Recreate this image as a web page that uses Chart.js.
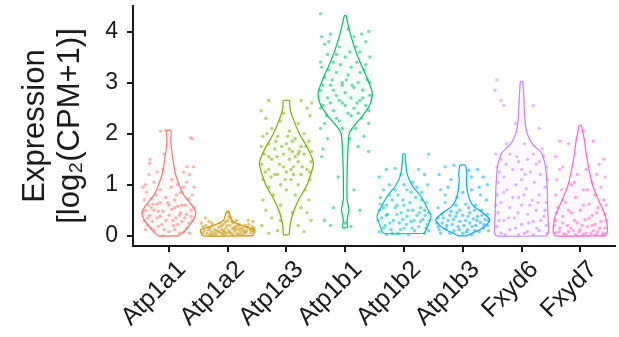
<!DOCTYPE html>
<html>
<head>
<meta charset="utf-8">
<script src="https://cdn.jsdelivr.net/npm/chart.js@4"></script>
<style>
  html, body { margin: 0; padding: 0; background: #fff; }
  #wrap { width: 619px; height: 337px; }
</style>
</head>
<body>
<div id="wrap"><canvas id="chartCanvas" width="619" height="337"></canvas></div>
<script>
// gene names on the x axis
const genes = ["Atp1a1", "Atp1a2", "Atp1a3", "Atp1b1", "Atp1b2", "Atp1b3", "Fxyd6", "Fxyd7"];
const yTicks = [0, 1, 2, 3, 4];
const colors = ["#F8766D", "#CD9600", "#7CAE00", "#00BE67", "#00BFC4", "#00A9FF", "#C77CFF", "#FF61CC"];

// violin outlines: [expression, relative half-width]
const atp1a1Profile = [[0,0.38],[0.1,0.6],[0.2,0.75],[0.3,0.9],[0.45,1],[0.6,0.85],[0.8,0.55],[1.0,0.38],[1.2,0.25],[1.5,0.15],[1.7,0.1],[1.85,0.07],[1.95,0.08],[2.06,0.08]];
const atp1a2Profile = [[0,0.9],[0.05,0.98],[0.12,1],[0.18,0.65],[0.25,0.3],[0.31,0.15],[0.38,0.1],[0.45,0.06],[0.48,0.02]];
const atp1a3Profile = [[0.02,0.1],[0.18,0.13],[0.3,0.17],[0.45,0.25],[0.7,0.45],[0.97,0.74],[1.2,0.9],[1.43,1],[1.7,0.8],[2.0,0.48],[2.25,0.28],[2.45,0.15],[2.6,0.12],[2.65,0.12]];
const atp1b1Profile = [[0.16,0.09],[0.3,0.07],[0.4,0.1],[0.51,0.14],[0.62,0.1],[0.7,0.07],[1.2,0.07],[1.69,0.1],[1.85,0.12],[2.02,0.16],[2.2,0.4],[2.34,0.63],[2.55,0.9],[2.8,1],[3.1,0.8],[3.4,0.55],[3.65,0.37],[3.9,0.22],[4.15,0.1],[4.31,0.03]];
const atp1b2Profile = [[0.05,0.75],[0.18,0.87],[0.38,1],[0.55,0.85],[0.77,0.63],[0.95,0.35],[1.1,0.19],[1.25,0.1],[1.36,0.08],[1.5,0.05],[1.6,0.04]];
const atp1b3Profile = [[0,0.15],[0.05,0.35],[0.12,0.63],[0.2,0.85],[0.31,1],[0.45,0.74],[0.58,0.4],[0.7,0.26],[0.85,0.18],[0.97,0.15],[1.1,0.13],[1.2,0.15],[1.3,0.13],[1.38,0.1]];
const fxyd6Profile = [[0,0.93],[0.1,1],[0.5,0.97],[0.9,0.95],[1.2,0.92],[1.36,0.89],[1.5,0.82],[1.62,0.74],[1.8,0.4],[2.02,0.2],[2.3,0.12],[2.67,0.09],[2.9,0.06],[3.02,0.04]];
const fxyd7Profile = [[0,0.93],[0.08,1],[0.18,1],[0.38,0.93],[0.55,0.8],[0.7,0.67],[1.0,0.45],[1.36,0.3],[1.6,0.22],[1.88,0.15],[2.05,0.08],[2.16,0.04]];

// jittered cells: [x offset from the gene, expression]
const atp1a1Points = [[-0.14,2.05],[-0.05,2.06],[0.37,1.92],[0.4,1.9],[0.42,1.35],[-0.32,1.5],[-0.33,1.42],[-0.2,1.25],[-0.1,1.3],[0.25,1.25],[0.35,1.2],[-0.4,1.0],[-0.25,1.05],[0.05,1.1],[0.15,1.0],[0.3,1.05],[-0.38,0.85],[-0.15,0.9],[0.2,0.85],[0.4,0.8],[-0.42,0.7],[-0.3,0.72],[-0.05,0.75],[0.1,0.7],[0.33,0.72],[-0.35,0.6],[-0.2,0.62],[0.0,0.6],[0.15,0.58],[0.28,0.6],[-0.4,0.5],[-0.25,0.5],[-0.1,0.48],[0.05,0.52],[0.2,0.45],[0.38,0.5],[-0.33,0.4],[-0.15,0.38],[0.0,0.4],[0.12,0.35],[0.3,0.42],[-0.42,0.3],[-0.28,0.28],[-0.05,0.3],[0.22,0.28],[0.4,0.3],[-0.36,0.2],[-0.18,0.18],[0.08,0.2],[0.3,0.15],[-0.25,0.1],[0.0,0.08],[0.18,0.05],[-0.4,0.12],[0.35,0.05],[-0.1,0.0],[0.1,0.55],[-0.22,0.8],[0.25,0.95],[-0.08,1.6],[0.18,0.4],[-0.3,0.55],
    [-0.44,0.45],[-0.36,0.35],[-0.27,0.62],[-0.18,0.48],[-0.12,0.22],[-0.02,0.65],[0.07,0.3],[0.13,0.8],[0.22,0.6],[0.27,0.35],[0.34,0.25],[0.43,0.55],[-0.3,0.15],[-0.08,0.12],[0.1,0.12],[0.26,0.08],[-0.2,0.35],[0.04,0.95],[-0.34,1.2],[0.31,1.35],[-0.44,0.95],[0.43,0.95],[0.15,0.22],[-0.15,0.65],[0.38,0.38]];
const atp1a2Points = [[-0.45,0.25],[-0.4,0.1],[-0.38,0.35],[-0.35,0.05],[-0.3,0.15],[-0.28,0.08],[-0.25,0.2],[-0.22,0.12],[-0.2,0.03],[-0.18,0.1],[-0.15,0.17],[-0.12,0.06],[-0.1,0.12],[-0.08,0.22],[-0.05,0.08],[-0.03,0.15],[0.0,0.3],[0.0,0.45],[0.02,0.1],[0.04,0.2],[0.06,0.05],[0.08,0.14],[0.1,0.25],[0.12,0.09],[0.14,0.18],[0.16,0.04],[0.18,0.12],[0.2,0.22],[0.22,0.08],[0.25,0.15],[0.28,0.05],[0.3,0.2],[0.32,0.1],[0.35,0.3],[0.38,0.12],[0.4,0.06],[0.42,0.18],[0.44,0.1],[-0.42,0.18],[-0.32,0.28],[-0.26,0.02],[-0.14,0.25],[-0.06,0.02],[0.05,0.35],[0.15,0.3],[0.24,0.02],[0.34,0.16],[0.43,0.28],[-0.02,0.05],[0.11,0.16],
    [-0.43,0.05],[-0.37,0.2],[-0.33,0.12],[-0.27,0.25],[-0.23,0.06],[-0.16,0.08],[-0.11,0.19],[-0.07,0.1],[-0.01,0.2],[0.03,0.07],[0.07,0.28],[0.09,0.02],[0.13,0.13],[0.17,0.2],[0.21,0.15],[0.27,0.1],[0.31,0.06],[0.36,0.22],[0.41,0.1],[0.45,0.15],[-0.09,0.04],[0.19,0.03],[-0.3,0.02],[0.02,0.38],[-0.04,0.27]];
const atp1a3Points = [[-0.3,2.65],[0.25,2.65],[0.35,2.5],[-0.35,2.3],[0.4,2.35],[-0.1,2.25],[0.2,2.2],[-0.25,2.1],[0.05,2.05],[0.3,2.0],[-0.4,1.95],[-0.15,1.95],[0.15,1.9],[0.38,1.85],[-0.3,1.8],[0.0,1.8],[0.25,1.75],[-0.2,1.7],[0.1,1.65],[-0.38,1.6],[-0.05,1.6],[0.3,1.6],[-0.25,1.5],[0.05,1.5],[0.2,1.45],[0.42,1.45],[-0.42,1.4],[-0.12,1.4],[0.12,1.35],[0.35,1.3],[-0.3,1.3],[0.0,1.25],[-0.2,1.2],[0.25,1.2],[-0.4,1.1],[0.08,1.1],[0.4,1.1],[-0.1,1.0],[0.2,1.0],[-0.3,0.95],[0.32,0.9],[0.0,0.9],[-0.22,0.8],[0.15,0.8],[-0.4,0.7],[0.38,0.7],[-0.1,0.6],[0.25,0.55],[-0.35,0.5],[0.1,0.45],[-0.25,0.35],[0.42,0.3],[-0.42,0.2],[0.2,0.2],[-0.15,0.1],[0.3,0.08],[-0.3,0.05],[0.05,1.7],[-0.05,1.35],[0.15,1.55],
    [-0.43,1.75],[-0.33,2.0],[-0.18,1.85],[-0.08,1.75],[0.02,1.95],[0.1,1.85],[0.22,1.65],[0.33,1.75],[0.43,1.65],[-0.36,1.25],[-0.26,1.15],[-0.15,1.2],[-0.02,1.1],[0.12,1.2],[0.27,1.35],[0.4,1.25],[-0.3,1.55],[-0.16,1.55],[0.08,1.3],[0.2,1.6],[-0.05,2.4],[0.43,2.6],[-0.43,2.45],[0.35,0.45],[-0.1,0.3]];
const atp1b1Points = [[-0.42,4.35],[0.4,4.0],[-0.25,3.95],[-0.35,3.75],[0.15,3.9],[0.35,3.8],[-0.1,3.7],[0.25,3.6],[-0.3,3.55],[0.42,3.5],[0.0,3.5],[-0.2,3.4],[0.2,3.4],[-0.4,3.3],[0.1,3.3],[0.32,3.25],[-0.15,3.2],[0.05,3.15],[-0.35,3.1],[0.38,3.05],[-0.05,3.0],[0.22,3.0],[-0.25,2.95],[0.15,2.9],[-0.42,2.85],[0.3,2.85],[0.0,2.8],[-0.15,2.75],[0.42,2.75],[-0.3,2.7],[0.1,2.7],[0.25,2.65],[-0.05,2.6],[-0.38,2.55],[0.35,2.55],[0.15,2.5],[-0.2,2.45],[0.05,2.4],[-0.32,2.35],[0.28,2.3],[-0.1,2.25],[0.4,2.2],[-0.42,2.1],[0.18,2.1],[0.32,1.95],[-0.3,1.9],[0.22,1.75],[0.4,1.65],[-0.38,1.7],[-0.12,1.15],[0.15,0.9],[-0.2,0.55],[0.25,0.5],[-0.35,0.3],[0.0,0.25],[-0.25,0.2],[0.1,0.18],[-0.05,2.95],[0.08,3.6],[-0.22,3.05],
    [-0.4,3.9],[-0.28,3.8],[0.05,4.05],[0.28,3.95],[-0.15,3.55],[0.18,3.7],[-0.42,3.4],[0.35,3.35],[-0.08,3.35],[0.25,3.2],[-0.28,3.25],[0.02,3.05],[0.42,3.0],[-0.38,2.95],[0.12,2.95],[0.3,2.7],[-0.2,2.85],[-0.1,2.65],[0.2,2.6],[-0.42,2.5],[0.0,2.55],[-0.25,2.6],[0.4,2.45],[0.1,2.35],[-0.15,2.3],[0.22,2.4],[-0.35,2.2],[-0.05,2.1],[0.08,1.9],[-0.4,1.55]];
const atp1b2Points = [[0.42,1.6],[-0.3,1.3],[-0.15,1.32],[0.25,1.3],[0.35,1.2],[-0.42,1.15],[-0.05,1.2],[0.15,1.05],[-0.25,1.0],[0.4,1.0],[-0.35,0.9],[0.05,0.9],[0.3,0.85],[-0.1,0.8],[-0.4,0.75],[0.2,0.75],[-0.2,0.7],[0.1,0.65],[0.38,0.65],[-0.3,0.6],[0.0,0.6],[0.28,0.55],[-0.15,0.55],[-0.42,0.5],[0.15,0.5],[0.42,0.45],[-0.05,0.45],[-0.28,0.42],[0.22,0.4],[0.05,0.38],[-0.38,0.35],[0.32,0.32],[-0.18,0.3],[0.12,0.28],[-0.08,0.25],[0.4,0.22],[-0.32,0.2],[0.25,0.18],[0.0,0.15],[-0.22,0.12],[0.18,0.1],[-0.42,0.08],[0.35,0.05],[-0.1,0.05],[0.08,0.02],[-0.3,0.02],[0.42,0.1],[-0.02,0.7],[0.3,0.7],[-0.35,0.15],
    [-0.44,0.3],[-0.35,0.55],[-0.24,0.25],[-0.12,0.42],[-0.02,0.32],[0.07,0.5],[0.17,0.3],[0.26,0.45],[0.36,0.4],[0.44,0.3],[-0.4,0.62],[-0.3,0.4],[-0.2,0.05],[-0.06,0.12],[0.04,0.22],[0.14,0.15],[0.28,0.28],[0.38,0.15],[-0.15,0.9],[0.12,0.85],[-0.25,0.8],[0.22,0.95],[0.0,1.0],[-0.12,0.6],[0.35,0.5]];
const atp1b3Points = [[-0.3,1.35],[-0.15,1.38],[0.25,1.3],[0.1,1.28],[0.35,1.15],[-0.4,1.2],[0.42,1.0],[-0.25,0.95],[-0.38,0.9],[0.15,0.9],[0.3,0.8],[-0.1,0.75],[0.4,0.7],[-0.3,0.65],[0.05,0.62],[0.22,0.6],[-0.42,0.55],[-0.05,0.5],[0.32,0.5],[-0.2,0.48],[0.12,0.45],[0.42,0.42],[-0.35,0.42],[0.0,0.4],[0.25,0.38],[-0.12,0.38],[-0.42,0.35],[0.18,0.33],[0.38,0.32],[-0.25,0.3],[0.05,0.3],[-0.05,0.28],[0.3,0.26],[-0.35,0.25],[0.12,0.25],[-0.18,0.22],[0.42,0.2],[0.22,0.2],[-0.42,0.18],[-0.08,0.18],[0.35,0.15],[-0.28,0.14],[0.08,0.12],[-0.15,0.1],[0.28,0.08],[-0.38,0.05],[0.0,0.05],[0.15,0.02],[-0.22,0.4],[0.2,0.5],
    [-0.44,0.25],[-0.33,0.35],[-0.27,0.2],[-0.16,0.32],[-0.06,0.12],[0.02,0.2],[0.09,0.38],[0.16,0.18],[0.24,0.3],[0.33,0.4],[0.44,0.3],[-0.4,0.12],[-0.22,0.05],[-0.1,0.45],[0.06,0.08],[0.2,0.1],[0.36,0.22],[0.44,0.1],[-0.12,0.6],[0.1,0.55],[-0.3,0.8],[0.28,0.95],[0.0,0.85],[-0.2,1.1],[0.15,1.15]];
const fxyd6Points = [[-0.42,3.05],[-0.45,2.85],[-0.35,2.65],[-0.3,2.55],[0.2,2.55],[-0.1,2.2],[0.3,2.1],[0.05,1.8],[-0.2,1.6],[0.38,1.55],[-0.35,1.5],[0.1,1.5],[-0.05,1.45],[0.25,1.4],[-0.42,1.35],[0.42,1.35],[-0.15,1.3],[0.15,1.25],[0.32,1.2],[-0.3,1.15],[0.0,1.1],[-0.4,1.05],[0.22,1.05],[-0.1,1.0],[0.4,0.95],[0.08,0.92],[-0.25,0.9],[-0.42,0.8],[0.3,0.8],[-0.05,0.75],[0.18,0.7],[-0.35,0.65],[0.42,0.65],[0.0,0.6],[-0.2,0.55],[0.25,0.5],[-0.4,0.45],[0.1,0.42],[0.38,0.38],[-0.12,0.35],[-0.3,0.3],[0.2,0.28],[0.0,0.22],[0.42,0.2],[-0.42,0.18],[-0.2,0.12],[0.3,0.1],[0.1,0.08],[-0.35,0.05],[0.2,0.02],[-0.05,0.02],[0.35,1.7],[-0.25,1.8],[0.0,1.3],
    [-0.38,1.25],[-0.26,1.4],[-0.08,1.55],[0.06,1.2],[0.2,1.6],[0.3,1.45],[0.44,1.1],[-0.44,0.6],[-0.3,0.85],[-0.15,0.75],[0.04,0.8],[0.14,0.6],[0.28,0.65],[0.4,0.5],[-0.38,0.3],[-0.22,0.35],[-0.06,0.45],[0.12,0.25],[0.26,0.15],[0.44,0.05],[-0.28,0.02],[0.05,0.05],[-0.1,0.15],[0.33,0.3],[-0.44,1.6]];
const fxyd7Points = [[0.05,2.05],[-0.35,1.85],[-0.2,1.8],[0.22,1.85],[0.4,1.5],[-0.42,1.55],[0.32,1.4],[-0.3,1.35],[0.1,1.3],[-0.05,1.2],[0.42,1.15],[-0.4,1.1],[0.2,1.05],[-0.15,1.0],[0.35,0.95],[-0.32,0.9],[0.05,0.9],[-0.42,0.8],[0.25,0.8],[-0.08,0.75],[0.4,0.7],[-0.25,0.65],[0.15,0.62],[-0.38,0.55],[0.3,0.55],[0.0,0.5],[-0.15,0.45],[0.42,0.42],[0.2,0.4],[-0.3,0.38],[0.08,0.32],[-0.42,0.3],[0.35,0.28],[-0.05,0.25],[0.25,0.22],[-0.22,0.2],[0.12,0.18],[-0.35,0.15],[0.42,0.15],[0.0,0.12],[-0.12,0.1],[0.3,0.08],[-0.42,0.06],[0.18,0.05],[-0.28,0.04],[0.05,0.03],[0.38,0.02],[-0.08,0.02],[0.22,0.1],[-0.2,0.08],
    [-0.44,0.2],[-0.36,0.08],[-0.3,0.25],[-0.24,0.02],[-0.16,0.15],[-0.1,0.3],[-0.02,0.08],[0.03,0.2],[0.1,0.05],[0.15,0.35],[0.2,0.2],[0.27,0.03],[0.33,0.15],[0.4,0.05],[0.44,0.3],[-0.4,0.45],[-0.2,0.5],[0.05,0.6],[0.28,0.45],[0.44,0.6],[-0.3,0.7],[0.12,0.9],[-0.1,1.05],[0.28,1.2],[-0.35,1.3]];

const profiles = [atp1a1Profile, atp1a2Profile, atp1a3Profile, atp1b1Profile, atp1b2Profile, atp1b3Profile, fxyd6Profile, fxyd7Profile];
const pointSets = [atp1a1Points, atp1a2Points, atp1a3Points, atp1b1Points, atp1b2Points, atp1b3Points, fxyd6Points, fxyd7Points];

const halfWidth = 0.46;

function hexA(hex, a) {
    const n = parseInt(hex.slice(1), 16);
    return `rgba(${(n >> 16) & 255}, ${(n >> 8) & 255}, ${n & 255}, ${a})`;
}

const datasets = [];
profiles.forEach((prof, i) => {
    const cx = i + 1;
    const right = prof.map(([y, w]) => ({ x: cx + w * halfWidth, y }));
    const left = prof.slice().reverse().map(([y, w]) => ({ x: cx - w * halfWidth, y }));
    const outline = right.concat(left, [right[0]]);
    datasets.push({
        data: outline,
        showLine: true,
        borderColor: colors[i],
        backgroundColor: hexA(colors[i], 0.035),
        borderWidth: 1.2,
        pointRadius: 0,
        tension: 0.25,
        fill: "shape",
        order: 2
    });
});
pointSets.forEach((pts, i) => {
    datasets.push({
        data: pts.map(([dx, y]) => ({ x: i + 1 + dx, y })),
        showLine: false,
        backgroundColor: hexA(colors[i], 0.55),
        borderWidth: 0,
        pointRadius: 1.7,
        order: 1
    });
});

Chart.defaults.font.family = "'Liberation Sans', Arial, sans-serif";
Chart.defaults.color = "#1a1a1a";

new Chart(document.getElementById("chartCanvas").getContext("2d"), {
    type: "scatter",
    data: { datasets },
    options: {
        responsive: false,
        animation: false,
        layout: { padding: { left: 18, right: 2, top: 6, bottom: 0 } },
        plugins: { legend: { display: false }, tooltip: { enabled: false } },
        scales: {
            x: {
                type: "linear",
                min: 0.39,
                max: 8.59,
                afterBuildTicks: s => { s.ticks = genes.map((g, i) => ({ value: i + 1 })); },
                afterFit: s => { s.height = 91; s.paddingLeft = 0; s.paddingRight = 0; },
                ticks: {
                    callback: v => genes[v - 1],
                    minRotation: 45,
                    maxRotation: 45,
                    font: { size: 25 },
                    color: "#1a1a1a",
                    padding: 3,
                    labelOffset: 13
                },
                grid: { drawOnChartArea: false, drawTicks: true, tickLength: 6, color: "#1a1a1a", lineWidth: 2 },
                border: { display: true, color: "#1a1a1a", width: 2 }
            },
            y: {
                min: -0.2,
                max: 4.5,
                afterBuildTicks: s => { s.ticks = yTicks.map(v => ({ value: v })); },
                afterFit: s => { s.width = 115; s.paddingTop = 0; s.paddingBottom = 0; },
                ticks: { font: { size: 23 }, color: "#1a1a1a", padding: 9 },
                grid: { drawOnChartArea: false, drawTicks: true, tickLength: 6, color: "#1a1a1a", lineWidth: 2 },
                border: { display: true, color: "#1a1a1a", width: 2 },
                title: {
                    display: true,
                    text: ["Expression", "[log\u2082(CPM+1)]"],
                    font: { size: 31, lineHeight: 1.12 },
                    color: "#1a1a1a",
                    padding: { top: 0, bottom: 22 }
                }
            }
        }
    }
});
</script>
</body>
</html>
